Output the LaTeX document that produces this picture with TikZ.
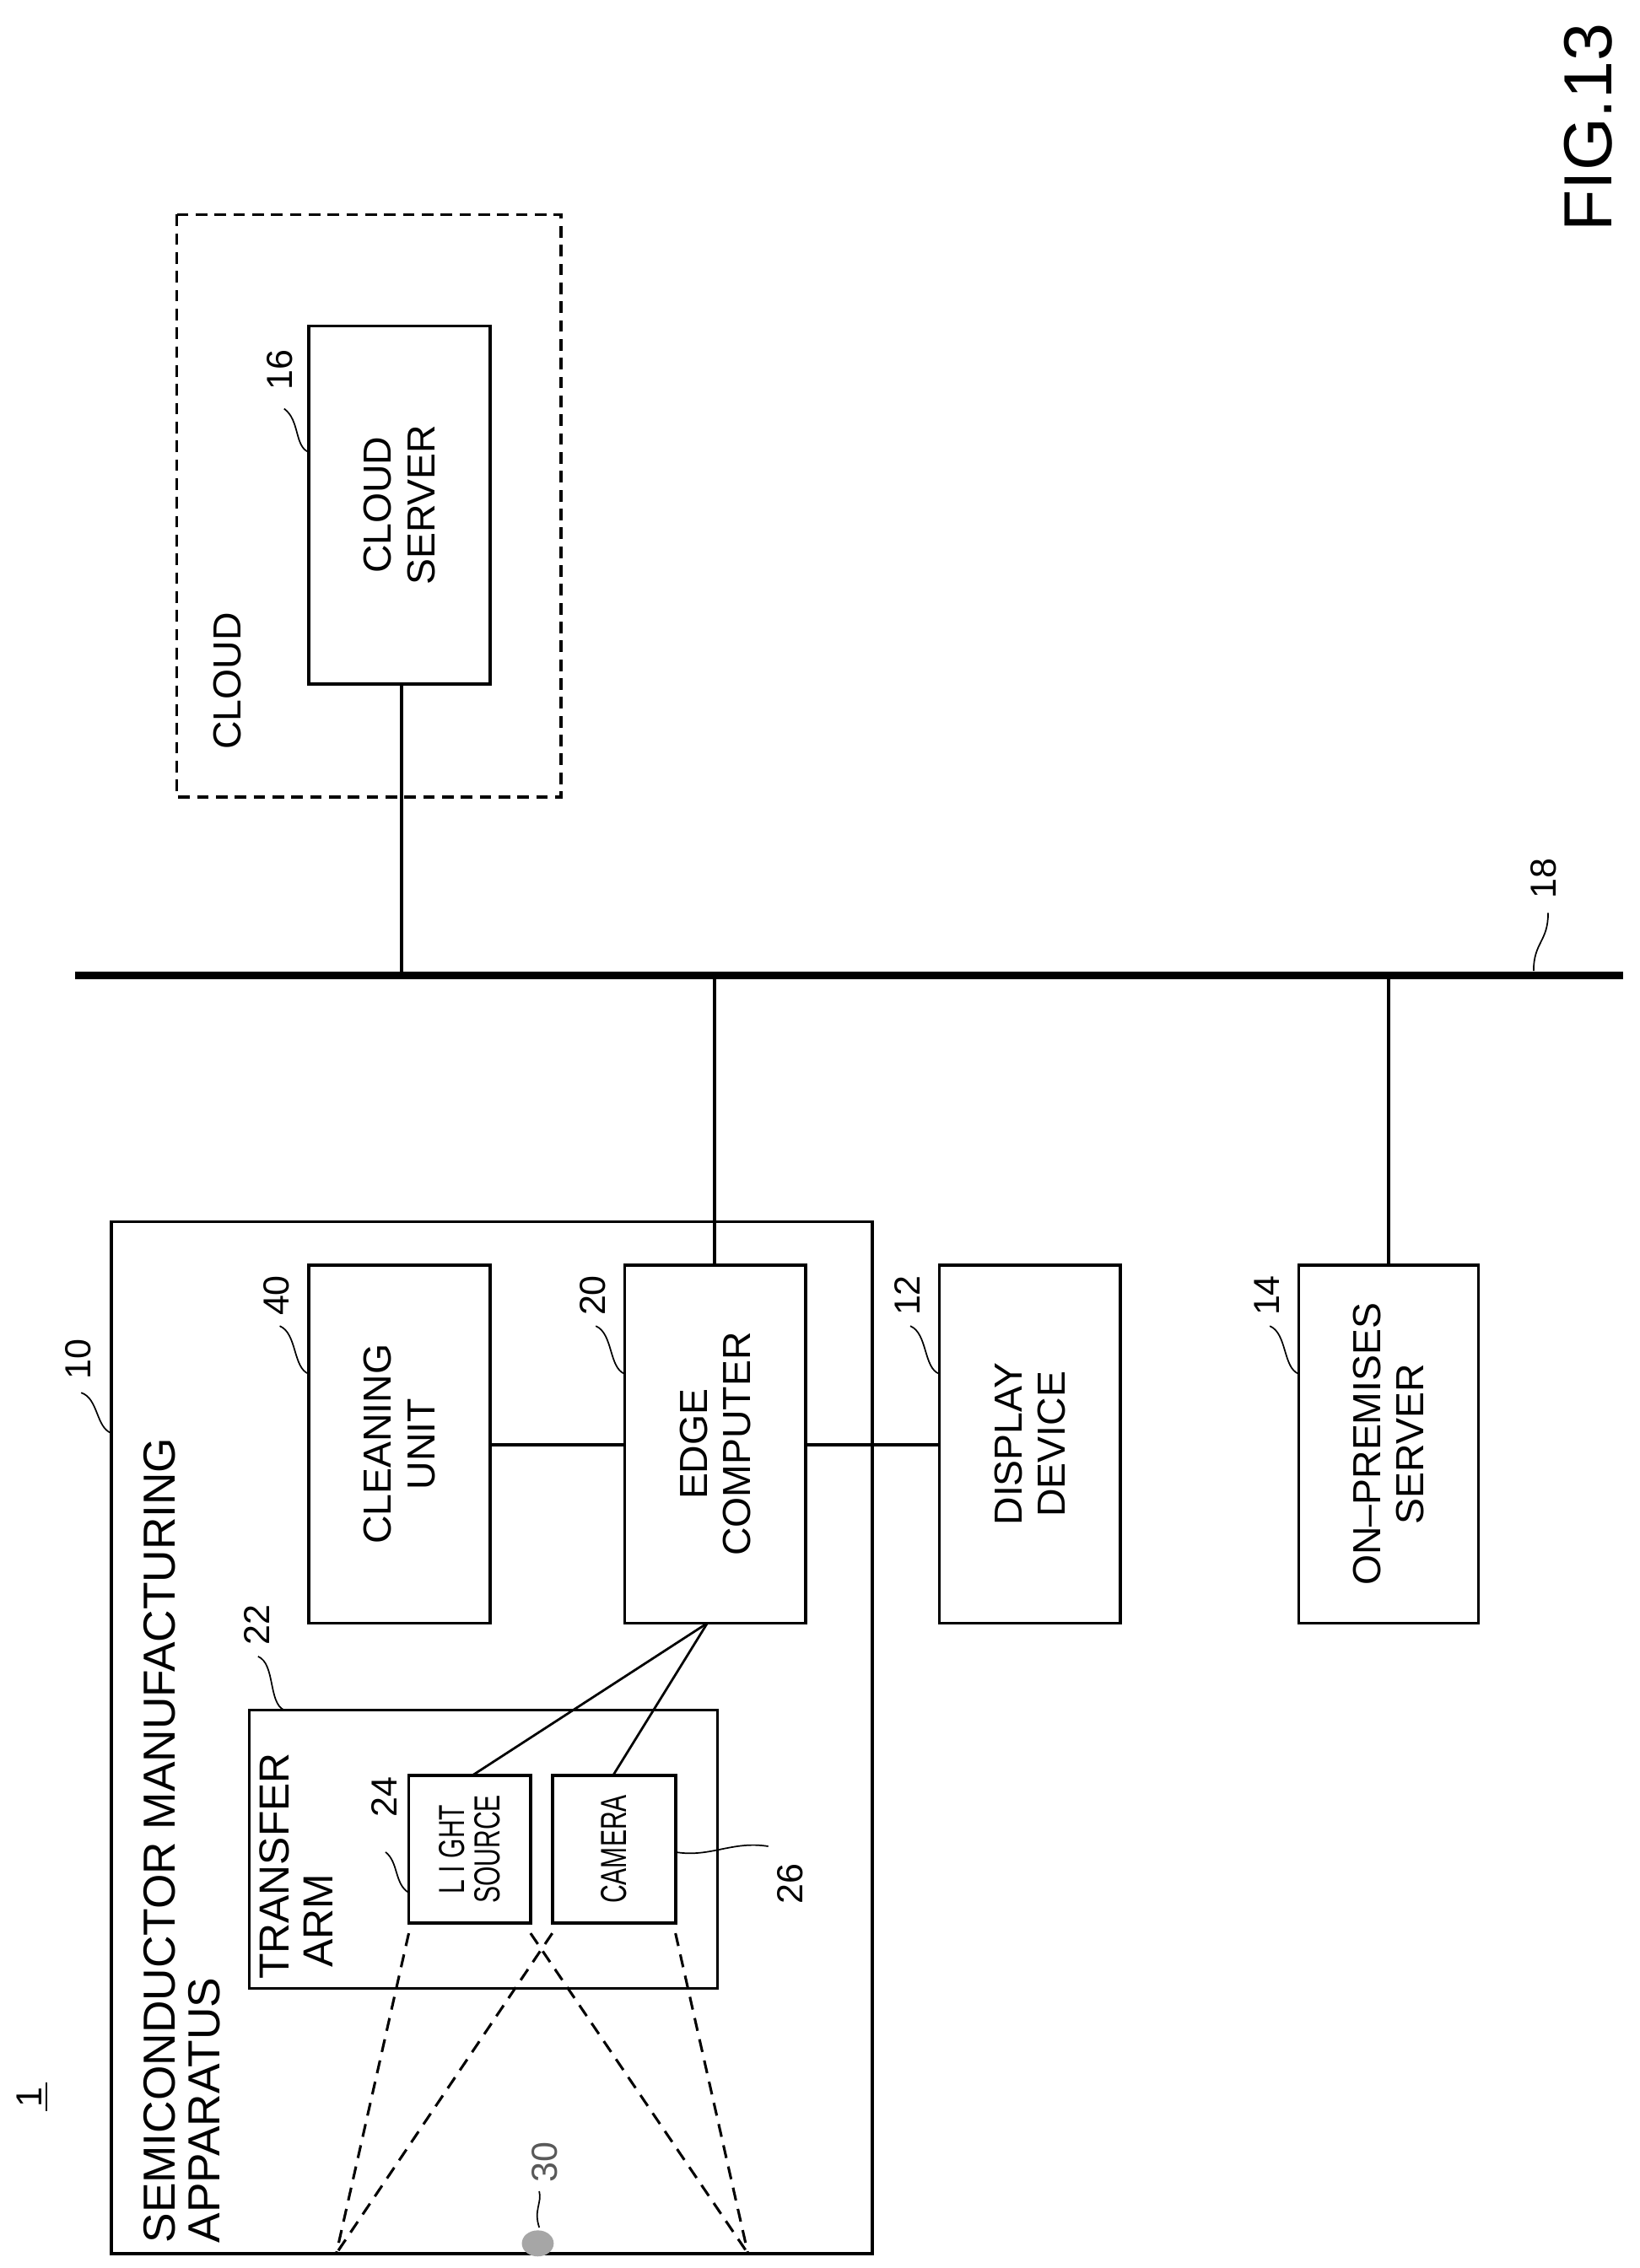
\documentclass[tikz,border=0pt]{standalone}
\usepackage{fontspec}
\setmainfont{Liberation Sans}
\begin{document}
\begin{tikzpicture}[x=1pt,y=-1pt,
 box/.style={draw,line width=2.2pt},
 ln/.style={line width=2.2pt},
 lab/.style={rotate=90,font=\fontsize{27}{30}\selectfont,align=center,inner sep=0pt},
 num/.style={rotate=90,font=\fontsize{25}{28}\selectfont,inner sep=0pt},
 small/.style={rotate=90,font=\fontsize{25}{24}\selectfont\addfontfeatures{FakeStretch=0.7},align=center,inner sep=0pt},
 lead/.style={line width=1pt},
 dsh/.style={line width=1.8pt,dash pattern=on 9pt off 6pt}]
\useasboundingbox (0,0) rectangle (1131,1565);
% cloud
\draw[line width=1.8pt,dash pattern=on 8pt off 5pt] (122,148) rectangle (387,550);
\node[lab] (cloudlab) at (157,470) {CLOUD};
\node[box,minimum width=125pt,minimum height=247pt,inner sep=0pt] (cs) at (275.5,348.5) {};
\node[lab] at (cs.center) {CLOUD\\SERVER};
\node[num] (n16) at (193,255) {16};
\draw[lead] (213,312) .. controls (203,308) and (207,290) .. (196,282);
% bus
\draw[line width=5pt] (52,673) -- (1120,673);
\coordinate (b1) at (277,673);\coordinate (b2) at (493,673);\coordinate (b3) at (958,673);
\node[num] (n18) at (1065,606) {18};
\draw[lead] (1058,670) .. controls (1058,650) and (1068,650) .. (1068,630);
\draw[ln] (cs.south -| b1) -- (b1);
% outer box
\draw[box] (77,843) rectangle (602,1555);
\node[rotate=90,font=\fontsize{31}{31}\selectfont,align=left,inner sep=0pt,anchor=north west] (semi) at (99,1548) {SEMICONDUCTOR MANUFACTURING\\APPARATUS};
\node[num] (n10) at (54,938) {10};
\draw[lead] (77,989) .. controls (66,985) and (68,965) .. (56,961);
% boxes
\draw[box] (213,873) rectangle (338,1120); \node[lab] at (275.5,996.5) {CLEANING\\UNIT};
\draw[box] (431,873) rectangle (556,1120); \node[lab] at (493.5,996.5) {EDGE\\COMPUTER};
\draw[box] (648,873) rectangle (773,1120); \node[lab] at (710.5,996.5) {DISPLAY\\DEVICE};
\draw[box] (896,873) rectangle (1020,1120); \node[lab] at (958,996.5) {ON{\textendash}PREMISES\\SERVER};
\node[num] at (191,894) {40}; \draw[lead] (213,948) .. controls (202,944) and (205,920) .. (193,915);
\node[num] at (409,894) {20}; \draw[lead] (431,948) .. controls (420,944) and (423,920) .. (411,915);
\node[num] at (626,894) {12}; \draw[lead] (648,948) .. controls (637,944) and (640,920) .. (628,915);
\node[num] at (874,894) {14}; \draw[lead] (896,948) .. controls (885,944) and (888,920) .. (876,915);
\draw[ln] (338,997) -- (431,997);
\draw[ln] (556,997) -- (648,997);
\draw[ln] (b2) -- (493,873);
\draw[ln] (b3) -- (958,873);
% transfer arm
\draw[box] (172,1180) rectangle (495,1372);
\node[rotate=90,font=\fontsize{29}{30}\selectfont,align=left,inner sep=0pt,anchor=north west] at (179,1366) {TRANSFER\\\ ARM};
\node[num] at (177,1121) {22}; \draw[lead] (196,1180) .. controls (185,1175) and (190,1148) .. (178,1143);
\draw[box] (282,1225) rectangle (366,1327);
\node[small] at (324,1276) {L I GHT\\SOURCE};
\draw[box] (381,1225) rectangle (466,1327);
\node[small] at (423.5,1276) {CAMERA};
\node[num] at (265,1240) {24}; \draw[lead] (282,1306) .. controls (272,1300) and (275,1285) .. (266,1278);
\node[num] at (545,1300) {26}; \draw[lead] (466,1278) .. controls (490,1282) and (505,1270) .. (530,1274);
\draw[line width=1.6pt] (488,1120) -- (326,1225);
\draw[line width=1.6pt] (488,1120) -- (423,1225);
% cones
\coordinate (L) at (232,1555); \coordinate (R) at (516,1555);
\draw[dsh] (282,1334) -- (L); \draw[dsh] (366,1334) -- (R);
\draw[dsh] (381,1334) -- (L); \draw[dsh] (466,1334) -- (R);
% particle
\fill[gray!70] (371,1548) ellipse (11 and 9);
\node[num,text=gray!70!black] at (376,1492) {30};
\draw[lead] (372,1537) .. controls (368,1525) and (374,1520) .. (372,1512);
% system label
\node[num] at (20,1447) {1};
\draw[line width=1.6pt] (32,1437) -- (32,1457);
\node[rotate=90,font=\fontsize{47}{47}\selectfont,inner sep=0pt] at (1096,88) {FIG.13};
\end{tikzpicture}
\end{document}
